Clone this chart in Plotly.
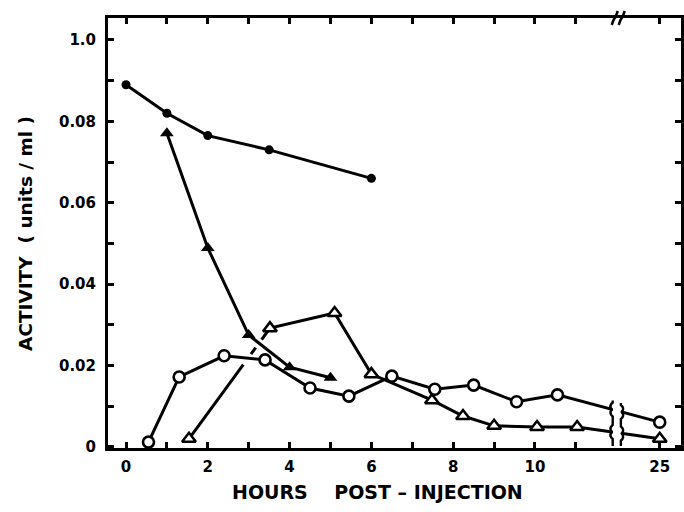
import plotly.graph_objects as go

# ---------------- data ----------------
fc_hours = [0, 1, 2, 3.5, 6]
fc_act = [0.089, 0.082, 0.0765, 0.073, 0.066]

ft_hours = [1, 2, 3, 4, 5]
ft_act = [0.0771, 0.0489, 0.0275, 0.0196, 0.0170]

oc_hours = [0.55, 1.3, 2.4, 3.4, 4.5, 5.45, 6.5, 7.55, 8.5, 9.55, 10.55, 25]
oc_act = [0.0012, 0.0172, 0.0224, 0.0214, 0.0145, 0.0125, 0.0174, 0.0142, 0.0152, 0.0111, 0.0128, 0.0061]

ot_hours = [1.54, 3.52, 5.1, 6.0, 7.48, 8.24, 9.0, 10.05, 11.03, 25]
ot_act = [0.0020, 0.0292, 0.0329, 0.0179, 0.0115, 0.0076, 0.0052, 0.0049, 0.0049, 0.0020]

x_tick_hours = [0, 1, 2, 3, 4, 5, 6, 7, 8, 9, 10, 11, 25]
x_tick_text = ['0', '', '2', '', '4', '', '6', '', '8', '', '10', '', '25']
y_tick_vals = [0, 0.01, 0.02, 0.03, 0.04, 0.05, 0.06, 0.07, 0.08, 0.09, 0.10]
y_tick_text = ['0', '', '0.02', '', '0.04', '', '0.06', '', '0.08', '', '1.0']

# ------------- axis break transform -------------
BREAK = 12.0
def disp(h):
    return h if h <= BREAK else BREAK + 1.05 * (h - BREAK) / 13.0

XR = [-0.44, 13.57]
YR = [-0.00025, 0.1054]
W, H = 684, 512
ML, MR, MT, MB = 108, 3, 18, 64
PW = W - ML - MR
PH = H - MT - MB

def fx(x, dpx=0.0):
    return (x - XR[0]) / (XR[1] - XR[0]) + dpx / PW

def fy(y, dpx=0.0):
    return (y - YR[0]) / (YR[1] - YR[0]) + dpx / PH

FONT = "DejaVu Sans"
fig = go.Figure()

LW = 3
fig.add_trace(go.Scatter(
    x=[disp(h) for h in fc_hours], y=fc_act, mode='lines+markers',
    line=dict(color='black', width=LW),
    marker=dict(symbol='circle', size=9, color='black'),
    showlegend=False, cliponaxis=False))
fig.add_trace(go.Scatter(
    x=[disp(h) for h in ft_hours], y=ft_act, mode='lines+markers',
    line=dict(color='black', width=LW),
    marker=dict(symbol='triangle-up', size=12, color='black'),
    showlegend=False, cliponaxis=False))
fig.add_trace(go.Scatter(
    x=[disp(h) for h in ot_hours], y=ot_act, mode='lines+markers',
    line=dict(color='black', width=LW, dash='92px,13px,8px,10px,3000px,1px'),
    marker=dict(symbol='triangle-up', size=12, color='white',
                line=dict(color='black', width=2.5)),
    showlegend=False, cliponaxis=False))
fig.add_trace(go.Scatter(
    x=[disp(h) for h in oc_hours], y=oc_act, mode='lines+markers',
    line=dict(color='black', width=LW),
    marker=dict(symbol='circle', size=11, color='white',
                line=dict(color='black', width=2.6)),
    showlegend=False, cliponaxis=False))

shapes = []
# white gap in the lines at the break
shapes.append(dict(type='rect', xref='x domain', yref='y domain',
                   x0=fx(11.9), x1=fx(12.1), y0=fy(0, 3), y1=fy(0.0125),
                   fillcolor='white', line=dict(width=0), layer='above'))

def brace_path(xb, ys, sgn):
    # vertical wavy line from top to the axis with brace bumps at ys
    top = ys[0] + 0.0022
    parts = ["M %f,%f" % (fx(xb), fy(top))]
    for yc in ys:
        parts.append("L %f,%f" % (fx(xb), fy(yc, 7)))
        parts.append("Q %f,%f %f,%f" % (fx(xb, 4 * sgn), fy(yc, 4), fx(xb, 1 * sgn), fy(yc, 0)))
        parts.append("Q %f,%f %f,%f" % (fx(xb, 4 * sgn), fy(yc, -4), fx(xb), fy(yc, -7)))
    parts.append("L %f,%f" % (fx(xb), fy(0, 1)))
    return " ".join(parts)

shapes.append(dict(type='path', xref='x domain', yref='y domain',
                   path=brace_path(11.9, [0.0092, 0.0037], -1),
                   line=dict(color='black', width=2.4), layer='above'))
shapes.append(dict(type='path', xref='x domain', yref='y domain',
                   path=brace_path(12.1, [0.0086, 0.0033], 1),
                   line=dict(color='black', width=2.4), layer='above'))

# break marks on the top spine
for xb in (11.95, 12.12):
    p = "M %f,%f Q %f,%f %f,%f Q %f,%f %f,%f" % (
        fx(xb, -3), fy(YR[1], -7),
        fx(xb, -1), fy(YR[1], -1), fx(xb, 0), fy(YR[1], 0),
        fx(xb, 1), fy(YR[1], 1), fx(xb, 3), fy(YR[1], 7))
    shapes.append(dict(type='path', xref='x domain', yref='y domain', path=p,
                       line=dict(color='black', width=2.5), layer='above'))

annotations = [
    dict(text='HOURS\u00a0\u00a0\u00a0\u00a0POST\u00a0\u2013\u00a0INJECTION',
         xref='paper', yref='paper',
         x=(377 - ML) / PW, y=(H - MB - 492) / PH,
         xanchor='center', yanchor='middle', showarrow=False,
         font=dict(family=FONT, size=19, color='black', weight='bold')),
    dict(text='ACTIVITY\u00a0\u00a0(\u00a0units\u00a0/\u00a0ml\u00a0)',
         xref='paper', yref='paper',
         x=(25 - ML) / PW, y=(H - MB - 234) / PH,
         xanchor='center', yanchor='middle', textangle=-90, showarrow=False,
         font=dict(family=FONT, size=18.5, color='black', weight='bold')),
]

fig.update_layout(
    width=W, height=H,
    margin=dict(l=ML, r=MR, t=MT, b=MB, pad=0, autoexpand=False),
    paper_bgcolor='white', plot_bgcolor='white',
    shapes=shapes, annotations=annotations,
    xaxis=dict(range=XR, tickmode='array', automargin=False,
               tickvals=[disp(h) for h in x_tick_hours], ticktext=x_tick_text,
               ticks='inside', ticklen=6, tickwidth=2.5, tickcolor='black',
               showline=True, linewidth=3, linecolor='black', mirror='ticks',
               showgrid=False, zeroline=False, ticklabelstandoff=3,
               tickfont=dict(family=FONT, size=15, color='black', weight='bold')),
    yaxis=dict(range=YR, tickmode='array', automargin=False,
               tickvals=y_tick_vals, ticktext=y_tick_text,
               ticks='inside', ticklen=6, tickwidth=2.5, tickcolor='black',
               showline=True, linewidth=3, linecolor='black', mirror='ticks',
               showgrid=False, zeroline=False, ticklabelstandoff=6,
               tickfont=dict(family=FONT, size=15, color='black', weight='bold')),
)

fig.write_html("out.html", config={'displayModeBar': False},
               post_script="document.body.style.margin='0';")
